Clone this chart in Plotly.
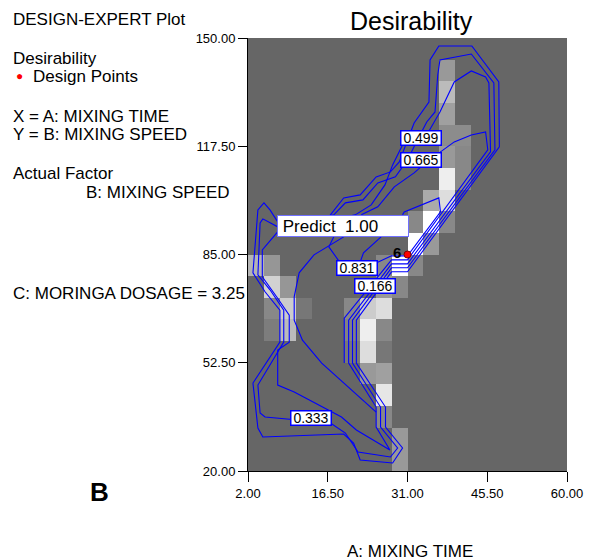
import plotly.graph_objects as go

# ---------------- data ----------------
x_ticks = [2.0, 16.5, 31.0, 45.5, 60.0]
y_ticks = [20.0, 52.5, 85.0, 117.5, 150.0]
x_ticktext = ["2.00", "16.50", "31.00", "45.50", "60.00"]
y_ticktext = ["20.00", "52.50", "85.00", "117.50", "150.00"]

# design point
design_x = [31.0]
design_y = [85.0]
design_label = ["6"]

# shaded grid cells (20 x 20 grid): column index, row index from top, gray level
cell_col = [12, 12, 12, 12, 13, 12, 13, 12, 13, 11, 12, 10, 11, 12, 10, 11, 9, 10,
            8, 8, 9, 6, 7, 8, 6, 7, 8, 6, 7, 8, 7, 8, 8, 8, 9, 9,
            0, 1, 1, 2, 1, 2, 3, 1, 2]
cell_row = [1, 2, 3, 4, 4, 5, 5, 6, 6, 7, 7, 8, 8, 8, 9, 9, 10, 10,
            10, 11, 11, 12, 12, 12, 13, 13, 13, 14, 14, 14, 15, 15, 16, 17, 18, 19,
            10, 10, 11, 11, 12, 12, 12, 13, 13]
cell_gray = [153, 187, 160, 140, 140, 153, 136, 238, 136, 170, 221, 136, 255, 136, 255, 153, 255, 136,
             136, 153, 136, 136, 204, 221, 130, 238, 136, 119, 221, 119, 153, 160, 230, 136, 153, 153,
             180, 150, 210, 150, 136, 204, 119, 125, 187]

# contour traces (A: mixing time, B: mixing speed)
c166_x = [16.7, 19.4, 22.4, 25.3, 27.9, 29.5, 32.2, 34.9, 35.1, 36.7, 42.7, 47.6, 47.7, 31.0, 28.1,
          21.7, 21.7, 27.0, 27.0, 30.1, 28.3, 22.4, 21.2, 19.4, 4.7, 3.8, 2.9, 7.8, 7.8, 5.1, 2.9,
          3.7, 3.8, 4.9, 6.0, 7.4, 16.7]
c166_y = [96.3, 102.0, 102.9, 108.3, 109.8, 112.8, 124.5, 130.8, 143.4, 147.6, 147.6, 136.8, 117.3, 79.8, 79.8,
          65.3, 52.4, 39.2, 33.2, 26.9, 22.4, 23.3, 28.4, 31.1, 30.2, 32.9, 46.4, 58.7, 68.3, 73.8, 79.5,
          95.4, 98.4, 100.5, 98.4, 94.8, 96.3]

c333_x = [17.6, 19.7, 22.9, 25.6, 28.8, 31.0, 32.8, 34.5, 36.0, 36.5, 36.9, 42.6, 46.7, 46.9, 31.0, 28.1,
          21.0, 21.0, 26.1, 26.1, 29.2, 27.9, 22.0, 19.7, 17.0, 9.9, 5.1, 4.2, 3.8, 8.5, 8.5, 6.0, 3.8,
          4.2, 4.7, 7.4, 17.6]
c333_y = [96.9, 100.5, 101.4, 106.5, 108.3, 113.4, 119.4, 124.8, 127.8, 138.9, 143.4, 145.2, 136.5, 116.4, 81.0, 81.0,
          65.3, 52.4, 39.2, 33.2, 26.9, 24.2, 25.7, 31.4, 34.4, 35.6, 36.2, 37.4, 45.8, 58.7, 68.3, 74.4, 78.9,
          94.5, 95.7, 93.3, 96.9]

c499_x = [21.5, 24.4, 26.9, 28.3, 30.1, 34.5, 36.9, 39.5, 42.6, 45.2, 45.8, 46.1, 31.0, 28.1,
          20.3, 20.3, 25.3, 25.3, 27.8, 21.7, 19.0, 10.4, 7.4, 7.4, 9.5, 9.5, 7.2, 4.6, 4.6, 7.4, 21.5]
c499_y = [96.9, 99.9, 105.9, 111.9, 117.9, 120.9, 127.8, 136.8, 140.1, 138.3, 136.5, 115.8, 82.2, 82.2,
          65.3, 52.4, 39.2, 33.2, 26.3, 32.3, 36.2, 43.7, 45.8, 56.3, 58.7, 66.8, 72.3, 78.3, 86.4, 91.8, 96.9]

c665_x = [22.6, 25.6, 28.6, 32.2, 34.5, 36.9, 39.5, 42.6, 45.2, 45.6, 31.0, 28.1, 19.5, 19.5]
c665_y = [96.9, 99.3, 105.3, 109.5, 112.8, 115.8, 118.8, 120.9, 121.8, 116.4, 83.4, 83.4, 65.9, 52.4]

c831_x = [30.1, 30.4, 36.7, 37.0, 31.0, 28.1, 25.4, 19.4, 16.7, 17.6]
c831_y = [96.9, 97.8, 102.0, 97.8, 84.6, 84.6, 82.5, 81.0, 87.3, 90.3]

inner_x = [19.4, 14.0, 11.3, 10.4, 10.4, 11.9, 15.4, 25.3]
inner_y = [90.3, 84.9, 79.5, 72.3, 65.3, 59.3, 52.4, 37.7]

short_x = [26.2, 23.0, 22.4]
short_y = [90.3, 85.5, 82.8]

contour_levels = ["0.499", "0.665", "0.831", "0.166", "0.333"]
label_x = [33.4, 33.4, 21.8, 25.1, 13.4]
label_y = [120.0, 113.5, 80.8, 75.5, 35.8]

predict_text = "Predict  1.00"
predict_x, predict_y = 19.2, 93.6

# ---------------- layout geometry ----------------
W, H = 595, 560
ML, MR, MT, MB = 248, 22, 38, 89
PW, PH = W - ML - MR, H - MT - MB


def pxx(x):
    return (x - ML) / PW


def pxy(y):
    return (H - MB - y) / PH


FONT = "Liberation Sans, Arial, sans-serif"

fig = go.Figure()

# shaded cells
ncol, nrow = 20, 20
xc = [2 + 2.9 * (i + 0.5) for i in range(ncol)]
yc = [150 - 6.5 * (j + 0.5) for j in range(nrow)]
z = [[None] * ncol for _ in range(nrow)]
for c, r, g in zip(cell_col, cell_row, cell_gray):
    z[r][c] = g
fig.add_trace(go.Heatmap(x=xc, y=yc, z=z, zmin=0, zmax=255,
                         colorscale=[[0, "black"], [1, "white"]],
                         showscale=False, hoverinfo="skip"))

for cx, cy in [(c166_x, c166_y), (c333_x, c333_y), (c499_x, c499_y), (c665_x, c665_y),
               (c831_x, c831_y), (inner_x, inner_y), (short_x, short_y)]:
    fig.add_trace(go.Scatter(x=cx, y=cy, mode="lines",
                             line=dict(color="#0000ff", width=1.1), hoverinfo="skip"))

fig.add_trace(go.Scatter(x=design_x, y=design_y, mode="markers",
                         marker=dict(color="#ff0000", size=7, line=dict(color="#800000", width=1))))

annotations = []
# contour labels
for t, x, y in zip(contour_levels, label_x, label_y):
    annotations.append(dict(x=x, y=y, xref="x", yref="y", text=t, showarrow=False,
                            font=dict(family=FONT, size=14, color="black"),
                            bgcolor="white", bordercolor="#0000ff", borderwidth=1.5,
                            borderpad=0, width=39, height=13))
annotations.append(dict(x=predict_x, y=predict_y, xref="x", yref="y", text=" " + predict_text,
                        showarrow=False, align="left",
                        font=dict(family=FONT, size=17, color="black"),
                        bgcolor="white", bordercolor="#7070ff", borderwidth=1,
                        borderpad=0, width=130, height=20))
annotations.append(dict(x=design_x[0], y=design_y[0], xref="x", yref="y", text="<b>%s</b>" % design_label[0],
                        showarrow=False, xanchor="right", yanchor="middle", xshift=-5, yshift=2,
                        font=dict(family=FONT, size=15, color="black")))

# title
annotations.append(dict(x=pxx(415), y=pxy(21), xref="paper", yref="paper", text="Desirability",
                        showarrow=False, xanchor="center", yanchor="middle",
                        font=dict(family=FONT, size=25, color="black")))
# axis title
annotations.append(dict(x=pxx(413), y=pxy(551), xref="paper", yref="paper", text="A: MIXING TIME",
                        showarrow=False, xanchor="center", yanchor="middle",
                        font=dict(family=FONT, size=17, color="black")))
# B panel letter
annotations.append(dict(x=pxx(97), y=pxy(492), xref="paper", yref="paper", text="<b>B</b>",
                        showarrow=False, xanchor="center", yanchor="middle",
                        font=dict(family=FONT, size=26, color="black")))

left_texts = [
    ("DESIGN-EXPERT Plot", 12, 20),
    ("Desirability", 12, 58),
    ("Design Points", 32, 77),
    ("X = A: MIXING TIME", 12, 117),
    ("Y = B: MIXING SPEED", 12, 135),
    ("Actual Factor", 12, 173),
    ("B: MIXING SPEED", 86, 192),
    ("C: MORINGA DOSAGE = 3.25", 12, 293),
]
for t, x, y in left_texts:
    annotations.append(dict(x=pxx(x - 5), y=pxy(y), xref="paper", yref="paper", text=t,
                            showarrow=False, xanchor="left", yanchor="middle",
                            font=dict(family=FONT, size=17, color="black")))
annotations.append(dict(x=pxx(15), y=pxy(76), xref="paper", yref="paper", text="●",
                        showarrow=False, xanchor="center", yanchor="middle",
                        font=dict(family=FONT, size=12, color="#ff0000")))

fig.update_layout(
    width=W, height=H,
    margin=dict(l=ML, r=MR, t=MT, b=MB),
    paper_bgcolor="white", plot_bgcolor="#666666",
    showlegend=False,
    font=dict(family=FONT, size=13, color="black"),
    annotations=annotations,
)
fig.update_xaxes(range=[2, 60], tickvals=x_ticks, ticktext=x_ticktext,
                 showgrid=False, zeroline=False, showline=True, linecolor="black", linewidth=1,
                 ticks="outside", ticklen=10, tickcolor="black",
                 tickfont=dict(family=FONT, size=13, color="black"))
fig.update_yaxes(range=[20, 150], tickvals=y_ticks, ticktext=y_ticktext,
                 showgrid=False, zeroline=False, showline=True, linecolor="black", linewidth=1,
                 ticks="outside", ticklen=9, tickcolor="black",
                 tickfont=dict(family=FONT, size=13, color="black"))

fig.write_html("out.html")
